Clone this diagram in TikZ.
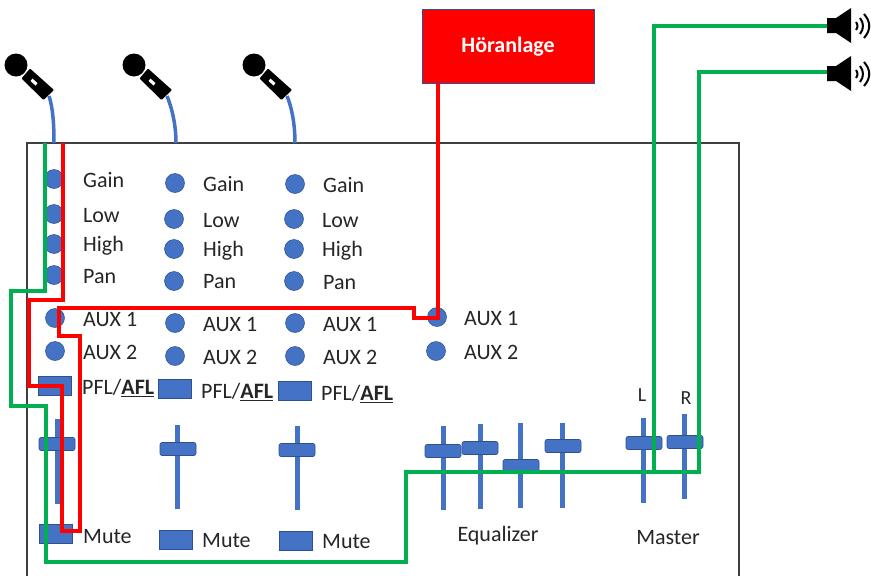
\documentclass[tikz,border=0pt]{standalone}
\usepackage{fontspec}
\setmainfont{Carlito}
\definecolor{knobblue}{HTML}{4472C4}
\definecolor{knobedge}{HTML}{2F528F}
\definecolor{sgreen}{HTML}{00B050}
\definecolor{textgrey}{HTML}{262626}
\tikzset{
  knob/.style={circle,fill=knobblue,draw=knobedge,line width=.5pt,minimum size=19pt,inner sep=0pt},
  btn/.style={rectangle,fill=knobblue,draw=knobedge,line width=.6pt,minimum width=33pt,minimum height=19pt,inner sep=0pt},
  fadercap/.style={rectangle,rounded corners=2pt,fill=knobblue,draw=knobedge,line width=.6pt,minimum width=36pt,minimum height=13pt,inner sep=0pt},
  track/.style={draw=knobblue,line width=5pt},
  lab/.style={anchor=west,inner sep=0pt,font=\fontsize{22}{22}\selectfont,text=textgrey},
  ctr/.style={inner sep=0pt,font=\fontsize{22}{22}\selectfont,text=textgrey},
  small/.style={inner sep=0pt,font=\fontsize{20}{20}\selectfont,text=textgrey},
  cable/.style={draw=knobblue,line width=3.5pt},
  gwire/.style={draw=sgreen,line width=4pt},
  rwire/.style={draw=red,line width=4.5pt},
}
\newcommand{\mymic}[3]{%
  \begin{scope}[shift={(#2,#3)}]
    \node[circle,fill=black,minimum size=23pt,inner sep=0pt] (#1) at (0,0) {};
    \fill[black,rounded corners=1pt] (5.5,13.5) -- (14,3.5) -- (38,25) -- (27.5,35) -- cycle;
    \fill[white] (21.5,18.1) -- (19.5,20.5) -- (14.5,16) -- (16.5,13.6) -- cycle;
    \coordinate (#1out) at (33,31);
  \end{scope}}
\newcommand{\myspk}[3]{%
  \begin{scope}[shift={(#2,#3)}]
    \coordinate (#1) at (0,0);
    \fill[black] (0,-8) -- (9,-8) -- (24,-18) -- (24,17) -- (9,7) -- (0,7) -- cycle;
    \draw[black,line width=2pt] (29,-4) .. controls (31,-1) and (31,1) .. (29,4);
    \draw[black,line width=2pt] (33,-8) .. controls (37,-3) and (37,3) .. (33,8);
    \draw[black,line width=2pt] (37,-12) .. controls (44,-4) and (44,4) .. (37,12);
  \end{scope}}
\begin{document}
\begin{tikzpicture}[x=1pt,y=-1pt]
\useasboundingbox (0,0) rectangle (871,576);
\fill[white] (0,0) rectangle (871,576);
% console outline
\draw[black!75,line width=1.2pt] (27,576) -- (27,143) -- (739,143) -- (739,576);
\coordinate (topA) at (54,143);
\coordinate (topB) at (176,143);
\coordinate (topC) at (295,143);
\coordinate (gstart) at (45,143);
\coordinate (rstart) at (63,143);
% mics
\mymic{ma}{16}{65}
\mymic{mb}{134}{65}
\mymic{mc}{254}{65}
\draw[cable] (maout) .. controls (53,108) and (54,125) .. (topA);
\draw[cable] (mbout) .. controls (172,108) and (176,125) .. (topB);
\draw[cable] (mcout) .. controls (292,108) and (295,125) .. (topC);
% Hoeranlage
\node[rectangle,fill=red,draw=knobedge,line width=.8pt,minimum width=172pt,minimum height=74pt,inner sep=0pt,text=white,font=\fontsize{22}{22}\selectfont\bfseries] (hoer) at (508,46.5) {Höranlage};
\coordinate (hoertap) at ([xshift=15pt]hoer.south west);
% speakers
\myspk{spka}{827}{26}
\myspk{spkb}{827}{74}
% knobs
\foreach \n/\x/\y in {aG/54/179,aL/54/214,aH/54/244,aP/54/275,aA/55/318,aB/55/351,
  bG/175/183,bL/174/219,bH/174/249,bP/174/281,bA/175/323,bB/175/356,
  cG/295/184,cL/294/219,cH/294/249,cP/294/281,cA/295/323,cB/295/356,
  mA/437/317,mB/436/351}
  \node[knob] (\n) at (\x,\y) {};
% buttons
\foreach \n/\x/\y in {aPfl/55/386,bPfl/175/389,cPfl/295/391,aMute/56/534,bMute/176/540,cMute/296/541}
  \node[btn] (\n) at (\x,\y) {};
% labels
\foreach \x/\y/\t in {83/180/Gain,83/216/Low,83/246/High,83/277/Pan,83/319/AUX 1,83/352/AUX 2,
  203/184/Gain,203/221/Low,203/251/High,203/282/Pan,203/324/AUX 1,203/357/AUX 2,
  323/185/Gain,322/221/Low,322/251/High,323/283/Pan,323/324/AUX 1,323/357/AUX 2,
  464/318/AUX 1,464/352/AUX 2,
  83/537/Mute,202/541/Mute,322/542/Mute}
  \node[lab] at (\x,\y) {\t};
\foreach \x/\y in {82/388,201/392,321/394}
  \node[lab] at (\x,\y) {PFL/\underline{\textbf{AFL}}};
\node[small] at (642,395) {L};
\node[small] at (686,398) {R};
\node[ctr] at (498,536) {Equalizer};
\node[ctr] at (668,538) {Master};
% faders
\foreach \x/\ya/\yb/\cx/\cy in {57/419/504/57/444,177/425/509/178/449,297/426/510/297/450,
  443/426/510/443/451,480/424/509/480/448,520/423/508/521/466,562/423/508/563/446,
  643/418/503/644/443,684/414/499/685/442}{
  \draw[track] (\x,\ya) -- (\x,\yb);
  \node[fadercap] at (\cx,\cy) {};
}
% green wires
\draw[gwire] (gstart) -- (45,291) -- (11,291) -- (11,406) -- (46,406) -- (46,562) -- (406,562) -- (406,472) -- (699,472) -- (699,72) -- (spkb |- 0,72);
\draw[gwire] (654,472) -- (654,26) -- (spka);
% red wire
\draw[rwire] (rstart) -- (63,300) -- (29,300) -- (29,386) -- (62,386) -- (62,531) -- (80,531) -- (80,336) -- (59,336) -- (59,308) -- (414,308) -- (414,318) -- (438,318) -- (hoertap -| 438,0);
\end{tikzpicture}
\end{document}
